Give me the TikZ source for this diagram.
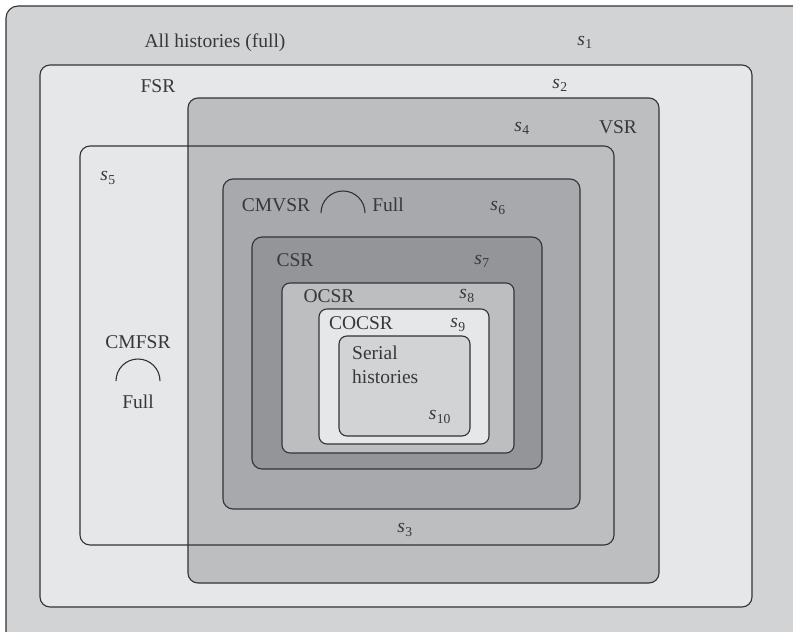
\documentclass[tikz,border=0pt]{standalone}
\usepackage{fontspec}
\setmainfont{Liberation Serif}
\newcommand\sv[1]{\textit{s}\kern0.3pt\textsubscript{#1}}
\begin{document}
\begin{tikzpicture}[x=1pt,y=-1pt,
  setbox/.style={draw=linegray,line width=1.1pt,rounded corners=10pt},
  lbl/.style={inner sep=0pt,text=txtgray,font=\fontsize{19.5}{24}\selectfont},
  arcline/.style={draw=linegray,line width=1.1pt}]
\definecolor{linegray}{HTML}{333333}
\definecolor{txtgray}{HTML}{383838}
\definecolor{gA}{HTML}{D1D3D4}
\definecolor{gB}{HTML}{E6E7E8}
\definecolor{gC}{HTML}{BCBEC0}
\definecolor{gD}{HTML}{A7A9AC}
\definecolor{gE}{HTML}{939598}
\clip (0,0) rectangle (793,632);
% boxes
\draw[setbox,fill=gA,rounded corners=12pt] (6,6) rectangle (810,650);
\draw[setbox,fill=gB] (40,65) rectangle (752,607);
\draw[setbox,fill=gC] (188,98) rectangle (659,583);
\draw[setbox,fill=gD] (223,179) rectangle (580,509);
\draw[setbox,fill=gE] (252,237) rectangle (542,469);
\draw[setbox,fill=gC,rounded corners=8pt] (282,283) rectangle (514,453);
\draw[setbox,fill=gB,rounded corners=8pt] (319,309) rectangle (489,444);
\draw[setbox,fill=gA,rounded corners=8pt] (339,336) rectangle (470,436);
\draw[setbox] (80,146) rectangle (614,545);
% labels
\node[lbl] (all) at (215,43) {All histories (full)};
\node[lbl] (s1) at (585,42) {\sv{1}};
\node[lbl] (fsr) at (158,86) {FSR};
\node[lbl] (s2) at (560,85) {\sv{2}};
\node[lbl] (s4) at (522,128) {\sv{4}};
\node[lbl] (vsr) at (618,127) {VSR};
\node[lbl] (s5) at (108,178) {\sv{5}};
\node[lbl] (cmvsr) at (276,205) {CMVSR};
\draw[arcline] (321,213) arc[start angle=180,end angle=0,radius=22pt];
\node[lbl] (full1) at (388,205) {Full};
\node[lbl] (s6) at (498,208) {\sv{6}};
\node[lbl] (csr) at (295,260) {CSR};
\node[lbl] (s7) at (482,261) {\sv{7}};
\node[lbl] (ocsr) at (329,296) {OCSR};
\node[lbl] (s8) at (467,296) {\sv{8}};
\node[lbl] (cocsr) at (361,323) {COCSR};
\node[lbl] (s9) at (458,325) {\sv{9}};
\node[lbl,align=left,anchor=west,font=\fontsize{19.5}{24}\selectfont] (serial) at (352,365) {Serial\\histories};
\node[lbl] (s10) at (440,417) {\sv{10}};
\node[lbl] (cmfsr) at (138,342) {CMFSR};
\draw[arcline] (116,381) arc[start angle=180,end angle=0,radius=22pt];
\node[lbl] (full2) at (138,402) {Full};
\node[lbl] (s3) at (405,530) {\sv{3}};
\end{tikzpicture}
\end{document}
